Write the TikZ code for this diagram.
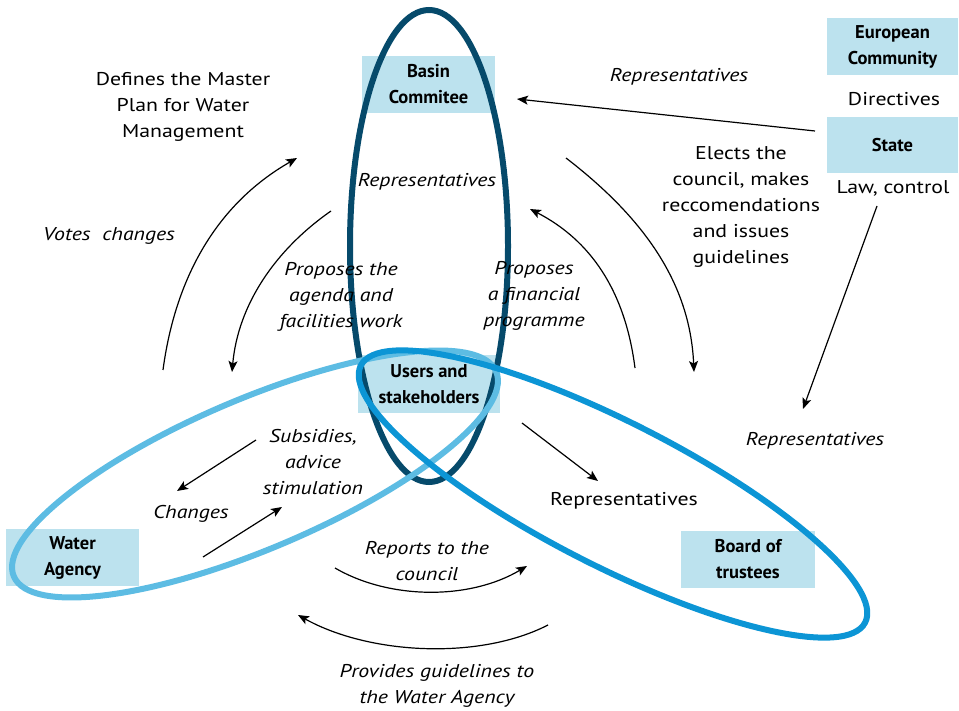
\documentclass[tikz,border=0pt]{standalone}
\usepackage{fontspec}
\setmainfont[FakeStretch=1.18]{PT Sans}
\newfontfamily\boxfont{PT Sans}
\usetikzlibrary{arrows.meta}

\definecolor{basinblue}{HTML}{064A6B}
\definecolor{agencyblue}{HTML}{5DBCE3}
\definecolor{boardblue}{HTML}{0C95D5}
\definecolor{boxfill}{HTML}{BCE2EE}

\begin{document}
\begin{tikzpicture}[x=1pt,y=-1pt,
  every node/.style={font=\fontsize{18.5}{26}\selectfont, align=center, inner sep=0pt},
  box/.style={fill=boxfill, minimum width=133pt, minimum height=57pt,
    font=\boxfont\bfseries\fontsize{18.5}{26}\selectfont},
  lbl/.style={font=\itshape\fontsize{18.5}{26}\selectfont},
  ring/.style={line width=6pt},
  link/.style={line width=1.2pt, -{Stealth[length=11pt,width=9pt,inset=2.5pt]}}]
\useasboundingbox (0,0) rectangle (959,711);

\node[box] (basin) at (428.5,84.5) {Basin\\Commitee};
\node[box, minimum width=131pt] (europe) at (892.5,46.5) {European\\Community};
\node[box, minimum width=131pt, minimum height=56pt] (state) at (892.5,145) {State};
\node[box, minimum width=142pt, minimum height=58pt] (users) at (429,384) {Users and\\stakeholders};
\node[box] (agency) at (72.5,557.5) {Water\\Agency};
\node[box, minimum width=134pt] (board) at (748,559.5) {Board of\\trustees};

\draw[ring, basinblue] (429,246) ellipse [x radius=79, y radius=236];
\draw[ring, agencyblue, rotate around={23:(255,474)}] (255,474) ellipse [x radius=262, y radius=75];
\draw[ring, boardblue, rotate around={-27:(613,494)}] (613,494) ellipse [x radius=283, y radius=72];

\node (defplan) at (183,107) {Defines the Master\\Plan for Water\\Management};
\node[lbl] (votes) at (109,236) {Votes~ changes};
\node[lbl] (repbasin) at (427,182) {Representatives};
\node[lbl] (reptop) at (679,77) {Representatives};
\node (directives) at (894,99) {Directives};
\node (lawctrl) at (893,188) {Law, control};
\node (elects) at (741,207) {Elects the\\council, makes\\reccomendations\\and issues\\guidelines};
\node[lbl] (agenda) at (341,297) {Proposes the\\agenda and\\facilities work};
\node[lbl] (finprog) at (534,296) {Proposes\\a financial\\programme};
\node[lbl] (repstate) at (815,441) {Representatives};
\node[lbl] (subsidies) at (313,462) {Subsidies,\\advice\\stimulation};
\node[lbl] (changes) at (191,514) {Changes};
\node (repboard) at (624,501) {Representatives};
\node[lbl] (reports) at (427,561) {Reports to the\\council};
\node[lbl] (guidelines) at (437,686) {Provides guidelines to\\the Water Agency};

\coordinate (state-out) at (815,131);
\coordinate (basin-in) at (517,99);
\coordinate (votes-s) at (163,370);
\coordinate (votes-e) at (297,158);
\coordinate (agenda-s) at (331,211);
\coordinate (agenda-e) at (232,372);
\coordinate (fin-s) at (635,368);
\coordinate (fin-e) at (530,209);
\coordinate (elects-s) at (566,158);
\coordinate (elects-e) at (694,372);
\coordinate (law-s) at (877,206);
\coordinate (law-e) at (803,409);
\coordinate (users-out) at (522,423);
\coordinate (board-in) at (598,481);
\coordinate (subs-s) at (256,440);
\coordinate (subs-e) at (177,491);
\coordinate (chg-s) at (203,557);
\coordinate (chg-e) at (282,507);
\coordinate (rep-s) at (335,568);
\coordinate (rep-e) at (527,566);
\coordinate (guide-s) at (548,625);
\coordinate (guide-e) at (298,615);

\draw[link] (state-out) -- (basin-in);
\draw[link] (votes-s) .. controls (175,280) and (215,205) .. (votes-e);
\draw[link] (agenda-s) .. controls (275,250) and (238,305) .. (agenda-e);
\draw[link] (fin-s) .. controls (625,290) and (590,240) .. (fin-e);
\draw[link] (elects-s) .. controls (640,215) and (690,280) .. (elects-e);
\draw[link] (law-s) -- (law-e);
\draw[link] (users-out) -- (board-in);
\draw[link] (subs-s) -- (subs-e);
\draw[link] (chg-s) -- (chg-e);
\draw[link] (rep-s) .. controls (390,600) and (470,600) .. (rep-e);
\draw[link] (guide-s) .. controls (480,660) and (370,655) .. (guide-e);
\end{tikzpicture}
\end{document}
